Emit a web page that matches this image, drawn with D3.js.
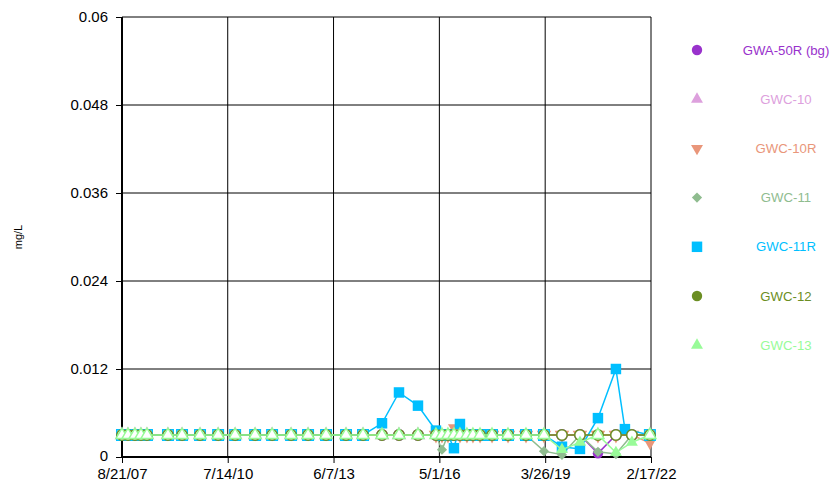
<!DOCTYPE html>
<html><head><meta charset="utf-8">
<script src="https://cdn.jsdelivr.net/npm/d3@7"></script>
<style>body{margin:0;background:#fff}svg{display:block;font-family:"Liberation Sans",Arial,sans-serif}</style>
</head><body><svg id="chart" width="833" height="490"></svg>
<script>
// ---- data ----
const N = "<0.003"; // non-detect, plotted at reporting limit (hollow marker)
const sampleDates = ["2007-08-21","2007-10-20","2007-12-29","2008-02-27","2008-04-27","2008-11-23","2009-04-13","2009-10-10","2010-04-09","2010-09-26",
 "2011-04-14","2011-10-01","2012-04-08","2012-09-25","2013-03-24","2013-10-10","2014-03-29","2014-10-05","2015-03-24","2015-09-30",
 "2016-03-28","2016-05-27","2016-07-26","2016-09-24","2016-11-23","2017-02-01","2017-04-02","2017-06-12","2017-10-10","2018-03-19",
 "2018-09-15","2019-03-14","2019-09-10","2020-03-08","2020-09-04","2021-03-03","2021-06-01","2021-08-10","2022-02-06"];
const seriesNames = ["GWA-50R (bg)","GWC-10","GWC-10R","GWC-11","GWC-11R","GWC-12","GWC-13"];
const seriesColors = ["#9932CC","#DDA0DD","#E9967A","#8FBC8F","#00BFFF","#6B8E23","#98FB98"];
const seriesShapes = ["circle","triangle","triangleDown","diamond","square","circle","triangle"];
const valsGWA50R = [N,N,N,N,N,N,N,N,N,N, N,N,N,N,N,N,N,N,N,N, N,N,N,N,N,N,N,N,N,N, N,N,N,N,0.0005,N,null,N,N];
const valsGWC10  = [N,N,N,N,N,N,N,N,N,N, N,N,N,N,N,N,N,N,N,N, null,null,null,null,null,null,null,null,null,null, null,null,null,null,null,null,null,null,null];
const valsGWC10R = [null,null,null,null,null,null,null,null,null,null, null,null,null,null,null,null,null,null,null,null, N,N,N,0.0040,N,N,N,N,N,N, N,N,N,N,N,N,null,N,0.0019];
const valsGWC11  = [N,N,N,N,N,N,N,N,N,N, N,N,N,N,N,N,N,N,N,N, N,0.0010,N,N,N,N,N,N,N,N, N,0.0008,0.0003,N,0.0007,0.0004,null,N,N];
const valsGWC11R = [N,N,N,N,N,N,N,N,N,N, N,N,N,N,N,N,N,0.0046,0.0088,0.0070, 0.0036,N,N,0.0012,0.0045,N,N,N,N,N, N,N,0.0014,0.0011,0.0053,0.0120,0.0038,null,N];
const valsGWC12  = [N,N,N,N,N,N,N,N,N,N, N,N,N,N,N,N,N,N,N,N, N,N,N,N,N,N,N,N,N,N, N,N,N,N,N,N,null,N,N];
const valsGWC13  = [N,N,N,N,N,N,N,N,N,N, N,N,N,N,N,N,N,N,N,N, N,N,N,N,N,N,N,N,N,N, N,N,0.0010,0.0020,N,0.0006,null,0.0020,N];
const seriesValues = [valsGWA50R,valsGWC10,valsGWC10R,valsGWC11,valsGWC11R,valsGWC12,valsGWC13];
const yTicks = [0,0.012,0.024,0.036,0.048,0.06];
const xTickLabels = ["8/21/07","7/14/10","6/7/13","5/1/16","3/26/19","2/17/22"];
const yTitle = "mg/L";

// ---- chart ----
const parseDate = d3.timeParse("%Y-%m-%d");
const parseTick = d3.timeParse("%m/%d/%y");
const xTicks = xTickLabels.map(parseTick);
const svg = d3.select("#chart");
const L = 122, R = 651, T = 17, B = 457;
const x = d3.scaleTime().domain([xTicks[0], xTicks[xTicks.length-1]]).range([L, R]);
const y = d3.scaleLinear().domain([0, 0.06]).range([B, T]);

// gridlines
const g = svg.append("g");
g.selectAll("line.h").data(yTicks.slice(1)).join("line")
  .attr("x1", L).attr("x2", R).attr("y1", d => y(d)).attr("y2", d => y(d))
  .attr("stroke", "#000").attr("stroke-width", 1);
g.selectAll("line.v").data(xTicks.slice(1)).join("line")
  .attr("y1", T).attr("y2", B).attr("x1", d => x(d)).attr("x2", d => x(d))
  .attr("stroke", "#000").attr("stroke-width", 1);

// axes
const yAxis = d3.axisLeft(y).tickValues(yTicks).tickFormat(d => d === 0 ? "0" : String(+d.toFixed(3))).tickSize(6).tickPadding(8);
const ya = svg.append("g").attr("transform", `translate(${L},0)`).call(yAxis);
const xAxis = d3.axisBottom(x).tickValues(xTicks).tickFormat((d, i) => xTickLabels[i]).tickSize(6).tickPadding(5);
const xa = svg.append("g").attr("transform", `translate(0,${B})`).call(xAxis);
[ya, xa].forEach(a => {
  a.select(".domain").attr("stroke", "#000").attr("stroke-width", 2);
  a.selectAll(".tick line").attr("stroke", "#000").attr("stroke-width", 1);
  a.selectAll(".tick text").attr("fill", "#000").attr("font-size", 15).attr("font-family", '"Liberation Sans",Arial,sans-serif');
});
ya.select(".domain").attr("d", `M0,${B}V${T}`);
xa.select(".domain").attr("d", `M${L},0H${R}`);
ya.selectAll(".tick text").filter(d => d === 0).attr("dy", "0.2em");

svg.append("text").attr("transform", "translate(22,237) rotate(-90)")
  .attr("text-anchor", "middle").attr("font-size", 11).attr("fill", "#000").text(yTitle);

// symbols
function symPath(shape) {
  switch (shape) {
    case "circle": return d3.symbol(d3.symbolCircle, 85)();
    case "triangle": return d3.symbol(d3.symbolTriangle, 62)();
    case "triangleDown": return d3.symbol(d3.symbolTriangle, 62)();
    case "diamond": return d3.symbol(d3.symbolSquare, 52)();
    case "square": return d3.symbol(d3.symbolSquare, 110)();
  }
}
function symRot(shape) {
  return shape === "triangleDown" ? " rotate(180)" : shape === "diamond" ? " rotate(45)" : "";
}
const line = d3.line().x(d => x(d.date)).y(d => y(d.v));

seriesNames.forEach((name, si) => {
  const pts = seriesValues[si].map((v, i) => {
    if (v === null) return null;
    const nd = typeof v === "string";
    return { date: parseDate(sampleDates[i]), v: nd ? parseFloat(v.slice(1)) : v, nd };
  }).filter(d => d);
  const sg = svg.append("g");
  sg.append("path").datum(pts).attr("d", line).attr("fill", "none")
    .attr("stroke", seriesColors[si]).attr("stroke-width", 1.5);
  sg.selectAll("path.m").data(pts).join("path")
    .attr("d", symPath(seriesShapes[si]))
    .attr("transform", d => `translate(${x(d.date)},${y(d.v)})` + symRot(seriesShapes[si]))
    .attr("fill", d => d.nd ? "#fff" : seriesColors[si])
    .attr("stroke", seriesColors[si]).attr("stroke-width", d => d.nd ? 1.5 : 0);
});

// legend
const lg = svg.append("g");
seriesNames.forEach((name, si) => {
  const ly = 50 + si * 49.2;
  lg.append("path").attr("d", symPath(seriesShapes[si]))
    .attr("transform", `translate(697,${ly})` + symRot(seriesShapes[si]))
    .attr("fill", seriesColors[si]);
  lg.append("text").attr("x", 786).attr("y", ly + 4.5).attr("text-anchor", "middle")
    .attr("font-size", 13.2).attr("fill", seriesColors[si]).text(name);
});
</script></body></html>
